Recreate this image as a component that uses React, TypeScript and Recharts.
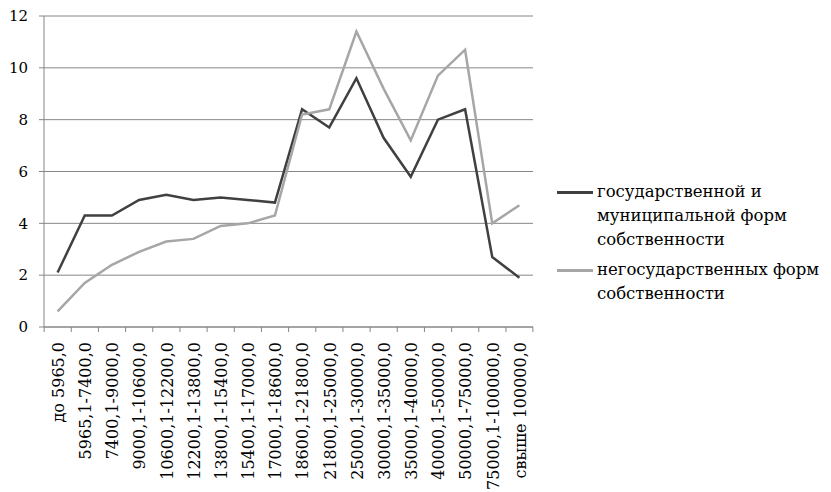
import { LineChart, Line, XAxis, YAxis, CartesianGrid, Legend } from "recharts";

const categories = [
    "до 5965,0",
    "5965,1-7400,0",
    "7400,1-9000,0",
    "9000,1-10600,0",
    "10600,1-12200,0",
    "12200,1-13800,0",
    "13800,1-15400,0",
    "15400,1-17000,0",
    "17000,1-18600,0",
    "18600,1-21800,0",
    "21800,1-25000,0",
    "25000,1-30000,0",
    "30000,1-35000,0",
    "35000,1-40000,0",
    "40000,1-50000,0",
    "50000,1-75000,0",
    "75000,1-100000,0",
    "свыше 100000,0",
];

const stateValues = [2.1, 4.3, 4.3, 4.9, 5.1, 4.9, 5.0, 4.9, 4.8, 8.4, 7.7, 9.6, 7.3, 5.8, 8.0, 8.4, 2.7, 1.9];
const nonStateValues = [0.6, 1.7, 2.4, 2.9, 3.3, 3.4, 3.9, 4.0, 4.3, 8.2, 8.4, 11.4, 9.2, 7.2, 9.7, 10.7, 4.0, 4.7];

const yTicks = [0, 2, 4, 6, 8, 10, 12];

const stateName = "государственной и\nмуниципальной форм\nсобственности";
const nonStateName = "негосударственных форм\nсобственности";

const data = categories.map((category, i) => ({
    category,
    state: stateValues[i],
    nonState: nonStateValues[i],
}));

const FONT = "'DejaVu Serif', serif";
const AXIS_COLOR = "#868686";
const PLOT_WIDTH = 485;
const BAND = PLOT_WIDTH / categories.length;

// category labels rotated, tick marks drawn between categories like Excel does
function CategoryTick(props: any) {
    const { x, y, payload, index } = props;
    const axisY = y - 15;
    const left = x - BAND / 2;
    return (
        <g>
            <line x1={left} y1={axisY} x2={left} y2={axisY + 5} stroke={AXIS_COLOR} />
            {index === categories.length - 1 && (
                <line x1={x + BAND / 2} y1={axisY} x2={x + BAND / 2} y2={axisY + 5} stroke={AXIS_COLOR} />
            )}
            <text
                x={x}
                y={y}
                transform={`rotate(-90 ${x} ${y})`}
                textAnchor="end"
                dy="0.4em"
                fontFamily={FONT}
                fontSize={16}
                fill="#000"
            >
                {payload.value}
            </text>
        </g>
    );
}

function SeriesLegend({ payload }: any) {
    return (
        <div style={{ fontFamily: FONT, fontSize: 16.5, lineHeight: "24px", color: "#000" }}>
            {(payload || []).map((entry: any, i: number) => (
                <div key={entry.value} style={{ display: "flex", alignItems: "flex-start", marginTop: i ? 6 : 0 }}>
                    <span
                        style={{
                            width: 36,
                            height: 3,
                            background: entry.color,
                            marginTop: 11,
                            marginRight: 4,
                            flexShrink: 0,
                        }}
                    />
                    <span style={{ whiteSpace: "pre-line" }}>{entry.value}</span>
                </div>
            ))}
        </div>
    );
}

export default function App() {
    return (
        <div style={{ position: "absolute", left: 0, top: 0, width: 831, height: 492, background: "#fff" }}>
            <LineChart width={831} height={492} data={data} margin={{ top: 16, right: 24, bottom: 0, left: 0 }}>
                <CartesianGrid vertical={false} stroke={AXIS_COLOR} />
                <XAxis
                    dataKey="category"
                    scale="band"
                    interval={0}
                    height={165}
                    axisLine={{ stroke: AXIS_COLOR }}
                    tickLine={false}
                    tickSize={5}
                    tickMargin={10}
                    tick={<CategoryTick />}
                />
                <YAxis
                    width={44}
                    domain={[0, 12]}
                    ticks={yTicks}
                    interval={0}
                    axisLine={{ stroke: AXIS_COLOR }}
                    tickLine={{ stroke: AXIS_COLOR }}
                    tickSize={5}
                    tickMargin={11}
                    tick={{ fontFamily: FONT, fontSize: 15, fill: "#000" }}
                />
                <Line type="linear" dataKey="state" name={stateName} stroke="#404040" strokeWidth={2.5} dot={false} isAnimationActive={false} />
                <Line type="linear" dataKey="nonState" name={nonStateName} stroke="#a6a6a6" strokeWidth={2.5} dot={false} isAnimationActive={false} />
                <Legend
                    layout="vertical"
                    align="right"
                    verticalAlign="top"
                    wrapperStyle={{ left: 557, top: 180, width: 274 }}
                    content={<SeriesLegend />}
                />
            </LineChart>
        </div>
    );
}
